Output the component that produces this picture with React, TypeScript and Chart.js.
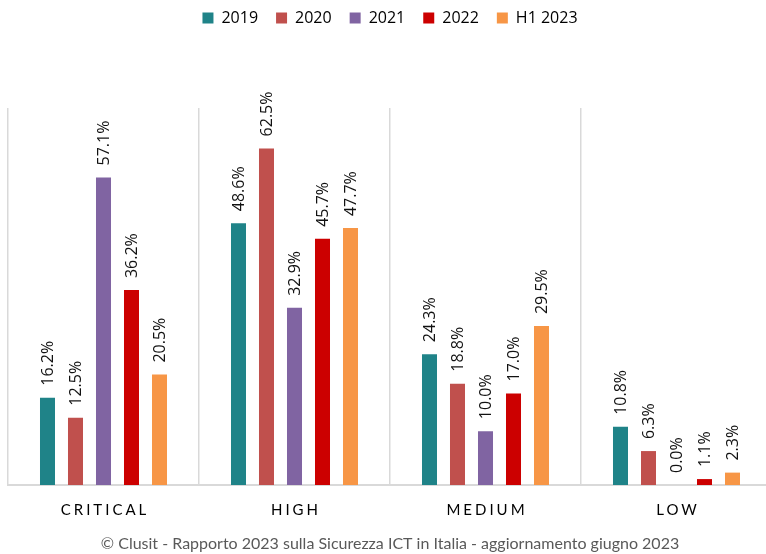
import React, { useEffect, useRef } from "react";
import { Chart, registerables } from "chart.js";

Chart.register(...registerables);

const categories = ["CRITICAL", "HIGH", "MEDIUM", "LOW"];
const seriesNames = ["2019", "2020", "2021", "2022", "H1 2023"];
const v2019 = [16.2, 48.6, 24.3, 10.8];
const v2020 = [12.5, 62.5, 18.8, 6.3];
const v2021 = [57.1, 32.9, 10.0, 0.0];
const v2022 = [36.2, 45.7, 17.0, 1.1];
const vH12023 = [20.5, 47.7, 29.5, 2.3];
const seriesColors = ["#1F8388", "#C0504D", "#8064A2", "#CC0000", "#F79646"];
const footerText = "© Clusit - Rapporto 2023 sulla Sicurezza ICT in Italia - aggiornamento giugno 2023";

const allSeries = [v2019, v2020, v2021, v2022, vH12023];

const customDraw = {
  id: "customDraw",
  afterInit(chart: any) {
    const legend = chart.legend;
    if (legend && !legend.__patched) {
      const orig = legend.fit.bind(legend);
      legend.fit = function () {
        orig();
        this.height = 116;
      };
      legend.__patched = true;
    }
  },
  afterDatasetsDraw(chart: any) {
    const ctx = chart.ctx;
    ctx.save();
    ctx.font = "16px 'Open Sans'";
    ctx.fillStyle = "#111111";
    ctx.textAlign = "left";
    ctx.textBaseline = "middle";
    chart.data.datasets.forEach((ds: any, di: number) => {
      const meta = chart.getDatasetMeta(di);
      meta.data.forEach((bar: any, i: number) => {
        const val = ds.data[i] as number;
        ctx.save();
        ctx.translate(bar.x + 1, bar.y - 12);
        ctx.rotate(-Math.PI / 2);
        ctx.fillText(val.toFixed(1) + "%", 0, 0);
        ctx.restore();
      });
    });
    ctx.restore();
  },
  afterDraw(chart: any) {
    const ctx = chart.ctx;
    const xScale = chart.scales.x;
    ctx.save();
    ctx.font = "15px Lato";
    ctx.fillStyle = "#000000";
    ctx.textAlign = "center";
    ctx.textBaseline = "middle";
    (ctx as any).letterSpacing = "3px";
    categories.forEach((c, i) => {
      const x = xScale.getPixelForValue(i);
      ctx.fillText(c, x + 1.5, chart.chartArea.bottom + 25);
    });
    (ctx as any).letterSpacing = "0px";
    ctx.font = "16px Lato";
    ctx.fillStyle = "#595959";
    ctx.fillText(footerText, (chart.chartArea.left + chart.chartArea.right) / 2, chart.chartArea.bottom + 59);
    ctx.restore();
  },
};

export default function App() {
  const canvasRef = useRef<HTMLCanvasElement | null>(null);

  useEffect(() => {
    if (!canvasRef.current) return;
    const chart = new Chart(canvasRef.current, {
      type: "bar",
      data: {
        labels: categories,
        datasets: seriesNames.map((name, i) => ({
          label: name,
          data: allSeries[i],
          backgroundColor: seriesColors[i],
          borderWidth: 0,
          categoryPercentage: 0.733,
          barPercentage: 0.536,
        })),
      },
      options: {
        animation: false,
        responsive: true,
        maintainAspectRatio: false,
        layout: { padding: { left: 8, right: 8, top: -8, bottom: 0 } },
        plugins: {
          legend: {
            position: "top",
            labels: {
              boxWidth: 11,
              boxHeight: 11,
              padding: 18,
              color: "#000000",
              font: { family: "'Open Sans'", size: 16 },
            },
          },
          tooltip: { enabled: false },
          title: { display: false },
        },
        scales: {
          x: {
            grid: { color: "#D9D9D9", drawTicks: false, offset: true, lineWidth: 1.5 },
            border: { color: "#D9D9D9", width: 2 },
            ticks: { color: "rgba(0,0,0,0)", font: { size: 15 } },
            afterFit(scale: any) {
              scale.height = 69;
            },
          },
          y: {
            display: false,
            min: 0,
            max: 70,
          },
        },
      },
      plugins: [customDraw],
    });
    return () => chart.destroy();
  }, []);

  return (
    <div style={{ position: "fixed", left: 0, top: 0, width: 766, height: 554, overflow: "hidden", background: "#fff" }}>
      <div style={{ position: "relative", width: 780, height: 554 }}>
        <canvas ref={canvasRef} />
      </div>
    </div>
  );
}
